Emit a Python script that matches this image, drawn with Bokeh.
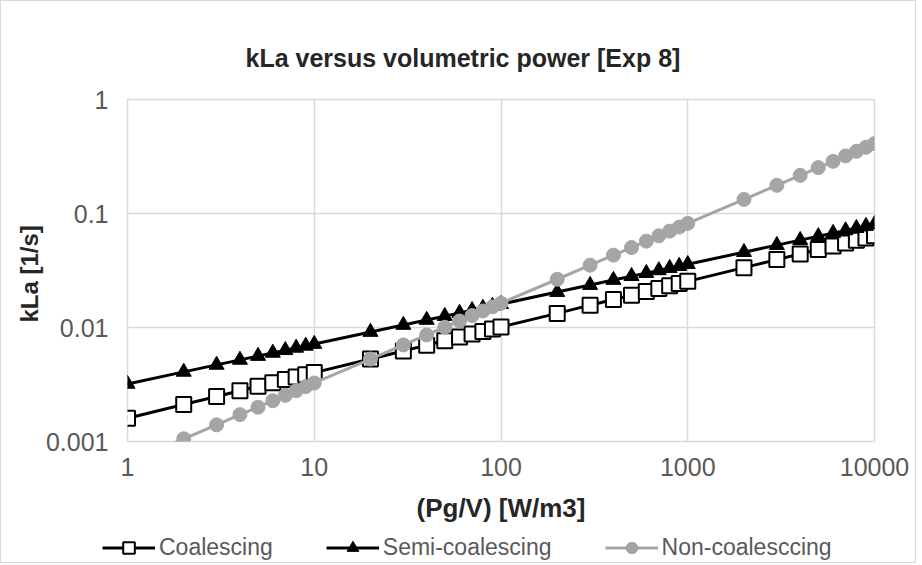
from bokeh.plotting import figure
from bokeh.models import Legend, LegendItem, FixedTicker, ColumnDataSource
from bokeh.layouts import column
from bokeh.embed import file_html
from bokeh.resources import INLINE

pgv = [1, 2, 3, 4, 5, 6, 7, 8, 9, 10,
       20, 30, 40, 50, 60, 70, 80, 90, 100,
       200, 300, 400, 500, 600, 700, 800, 900, 1000,
       2000, 3000, 4000, 5000, 6000, 7000, 8000, 9000, 10000]

coalescing = [0.0016, 0.00211, 0.00248, 0.00279, 0.00305, 0.00328, 0.00349, 0.00368, 0.00385, 0.00402,
              0.0053, 0.00623, 0.0070, 0.00766, 0.00824, 0.00877, 0.00924, 0.00968, 0.0101,
              0.0133, 0.0157, 0.0176, 0.0192, 0.0207, 0.0220, 0.0232, 0.0243, 0.0254,
              0.0335, 0.0394, 0.0442, 0.0483, 0.0520, 0.0552, 0.0583, 0.0610, 0.0637]

semi_coalescing = [0.0032, 0.00408, 0.0047, 0.0052, 0.00562, 0.00599, 0.00632, 0.00663, 0.0069, 0.00716,
                   0.00913, 0.01052, 0.01164, 0.01258, 0.0134, 0.01416, 0.01483, 0.01546, 0.01604,
                   0.02045, 0.02356, 0.0261, 0.0282, 0.0300, 0.0317, 0.0332, 0.0346, 0.0359,
                   0.0458, 0.0528, 0.0584, 0.0631, 0.0673, 0.0710, 0.0744, 0.0776, 0.0804]

non_coalescing = [0.00065, 0.001056, 0.0014, 0.00172, 0.0020, 0.00228, 0.00254, 0.00279, 0.00303, 0.00326,
                  0.00529, 0.00703, 0.0086, 0.01005, 0.01142, 0.01273, 0.01397, 0.01517, 0.01633,
                  0.0265, 0.0352, 0.0431, 0.0503, 0.0572, 0.0637, 0.0700, 0.0760, 0.0819,
                  0.133, 0.1767, 0.2161, 0.2526, 0.287, 0.320, 0.351, 0.381, 0.410]

x_ticks = [1, 10, 100, 1000, 10000]
x_tick_labels = ["1", "10", "100", "1000", "10000"]
y_ticks = [0.001, 0.01, 0.1, 1]
y_tick_labels = ["0.001", "0.01", "0.1", "1"]

title_text = "kLa versus volumetric power [Exp 8]"
x_label = "(Pg/V) [W/m3]"
y_label = "kLa  [1/s]"
names = ["Coalescing", "Semi-coalescing", "Non-coalesccing"]

FONT = "Liberation Sans"
GRID = "#d9d9d9"
TICKC = "#595959"
DARK = "#262626"
GREY = "#a5a5a5"

p = figure(width=914, height=526, x_axis_type="log", y_axis_type="log",
           x_range=(1, 10000), y_range=(0.001, 1),
           output_backend="svg", toolbar_location=None,
           min_border_left=126, min_border_right=41, min_border_top=98, min_border_bottom=86)

p.title.text = title_text
p.title.align = "left"
p.title.offset = 118
p.title.standoff = 55
p.title.text_font = FONT
p.title.text_font_style = "bold"
p.title.text_font_size = "25px"
p.title.text_color = DARK

p.outline_line_color = GRID
p.outline_line_width = 1.5
for ax in (p.xaxis[0], p.yaxis[0]):
    ax.axis_line_color = None
    ax.major_tick_line_color = None
    ax.minor_tick_line_color = None
    ax.major_tick_out = 0
    ax.major_tick_in = 0
    ax.minor_tick_out = 0
    ax.major_label_text_font = FONT
    ax.major_label_text_font_size = "25px"
    ax.major_label_text_color = TICKC
    ax.axis_label_text_font = FONT
    ax.axis_label_text_font_style = "bold"
    ax.axis_label_text_color = DARK

p.xaxis.axis_label_text_font_size = "26px"
p.yaxis.axis_label_text_font_size = "24px"
p.xaxis.ticker = FixedTicker(ticks=x_ticks)
p.yaxis.ticker = FixedTicker(ticks=y_ticks)
p.xaxis.major_label_overrides = {float(t): l for t, l in zip(x_ticks, x_tick_labels)}
p.yaxis.major_label_overrides = {float(t): l for t, l in zip(y_ticks, y_tick_labels)}
p.xaxis.major_label_standoff = 16
p.yaxis.major_label_standoff = 19
p.xaxis.axis_label = x_label
p.yaxis.axis_label = y_label
p.xaxis.axis_label_standoff = 14
p.yaxis.axis_label_standoff = 0

p.xgrid.grid_line_color = GRID
p.ygrid.grid_line_color = GRID
p.xgrid.grid_line_width = 1.5
p.ygrid.grid_line_width = 1.5

src = ColumnDataSource(dict(x=pgv, c=coalescing, s=semi_coalescing, n=non_coalescing))

line_styles = [dict(line_color="black", line_width=3),
               dict(line_color="black", line_width=3),
               dict(line_color=GREY, line_width=3)]
marker_styles = [dict(marker="square", size=15, fill_color="white", line_color="black", line_width=2),
                 dict(marker="triangle", size=15, fill_color="black", line_color="black", line_width=1),
                 dict(marker="circle", size=14, fill_color=GREY, line_color=GREY, line_width=1)]
cols = ["c", "s", "n"]

for col, ls, ms in zip(cols, line_styles, marker_styles):
    p.line("x", col, source=src, **ls)
    p.scatter("x", col, source=src, **ms)

# legend strip under the chart (its renderers reuse the data, kept outside its view range)
lg = figure(width=914, height=35, x_range=(-2, -1), y_range=(-2, -1),
            output_backend="svg", toolbar_location=None, min_border=0,
            frame_align=False)
lg.axis.visible = False
lg.grid.visible = False
lg.outline_line_color = None
items = []
for name, col, ls, ms in zip(names, cols, line_styles, marker_styles):
    r1 = lg.line("x", col, source=src, **ls)
    r2 = lg.scatter("x", col, source=src, **ms)
    items.append(LegendItem(label=name, renderers=[r1, r2]))
legend = Legend(items=items, orientation="horizontal", location=(101, 0),
                label_text_font=FONT, label_text_font_size="23px", label_text_color=TICKC,
                glyph_width=53, glyph_height=29, spacing=53, padding=0, margin=0,
                label_standoff=4, background_fill_alpha=0, border_line_color=None)
lg.add_layout(legend, "center")

page = column(p, lg, spacing=0)
page.styles = {"border": "1px solid #d9d9d9"}

open("out.html", "w").write(file_html(page, INLINE))
